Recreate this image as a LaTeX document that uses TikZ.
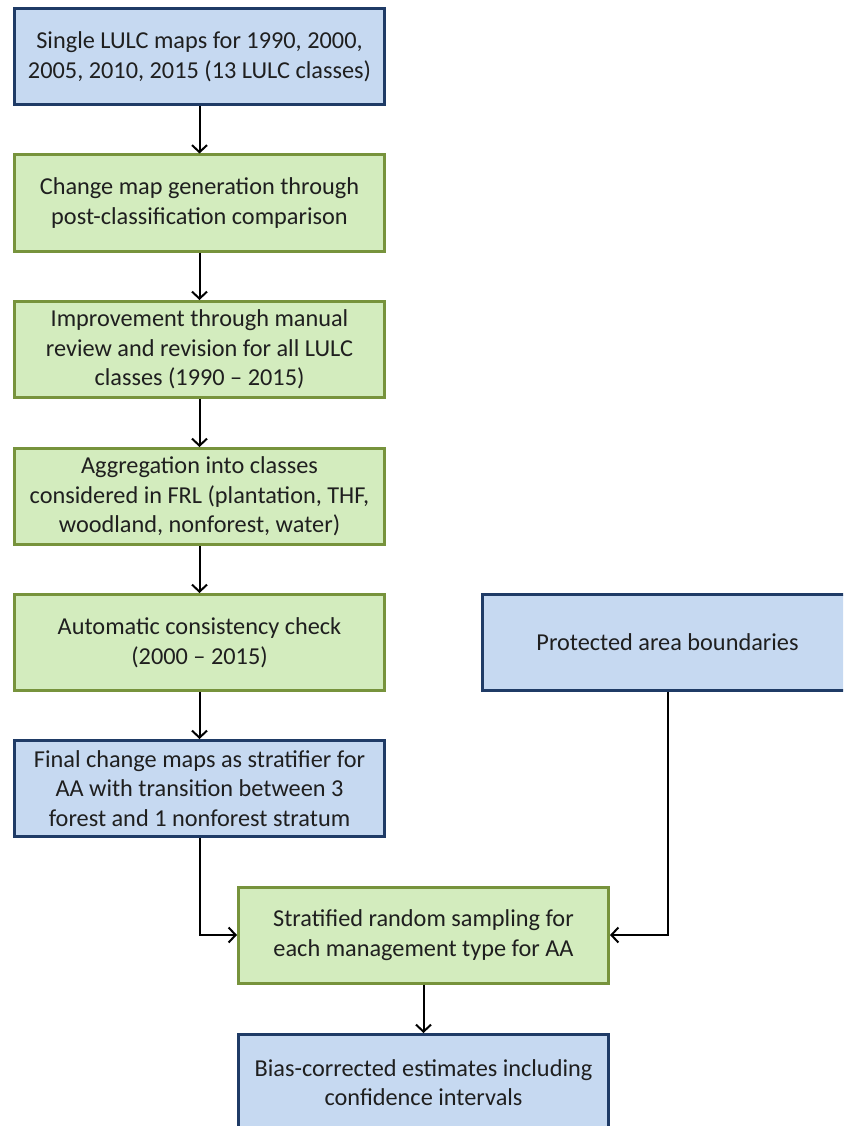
\documentclass[tikz,border=0pt]{standalone}
\usepackage{fontspec}
\setmainfont{Carlito}
\usetikzlibrary{shapes, arrows, arrows.meta, calc}
\definecolor{bluefill}{HTML}{C6D9F1}
\definecolor{blueline}{HTML}{1F3B66}
\definecolor{greenfill}{HTML}{D3ECBE}
\definecolor{greenline}{HTML}{77933C}
\tikzset{
  boxstyle/.style={rectangle, line width=3pt, minimum width=370pt,
    minimum height=96pt, align=center, text=black!88,
    font=\fontsize{24.3}{29.5}\selectfont},
  bluebox/.style={boxstyle, draw=blueline, fill=bluefill},
  greenbox/.style={boxstyle, draw=greenline, fill=greenfill},
  conn/.style={-{Straight Barb[length=7pt,width=15pt,line width=2pt]}, line width=2pt}
}

\begin{document}
\begin{tikzpicture}[x=1pt, y=1pt]
\clip (0,0) rectangle (843,-1126);
\node[bluebox]  at (199.5, -57)   (single) {Single LULC maps for 1990, 2000,\\2005, 2010, 2015 (13 LULC classes)};
\node[greenbox] at (199.5, -203)  (change) {Change map generation through\\post-classification comparison};
\node[greenbox] at (199.5, -349.5) (improve) {Improvement through manual\\review and revision for all LULC\\classes (1990 -- 2015)};
\node[greenbox] at (199.5, -496.5) (aggr) {Aggregation into classes\\considered in FRL (plantation, THF,\\woodland, nonforest, water)};
\node[greenbox] at (199.5, -642.5) (check) {Automatic consistency check\\(2000 -- 2015)};
\node[bluebox]  at (199.5, -788.5) (final) {Final change maps as stratifier for\\AA with transition between 3\\forest and 1 nonforest stratum};
\node[bluebox]  at (667.5, -642.5) (protect) {Protected area boundaries};
\node[greenbox] at (423.5, -935)  (strat) {Stratified random sampling for\\each management type for AA};
\node[bluebox]  at (423.5, -1082.5) (bias) {Bias-corrected estimates including\\confidence intervals};
\path (single) edge[conn] (change);
\path (change) edge[conn] (improve);
\path (improve) edge[conn] (aggr);
\path (aggr) edge[conn] (check);
\path (check) edge[conn] (final);
\draw[conn] (final.south) |- (strat.west);
\draw[conn] (protect.south) |- (strat.east);
\path (strat) edge[conn] (bias);
\end{tikzpicture}
\end{document}
